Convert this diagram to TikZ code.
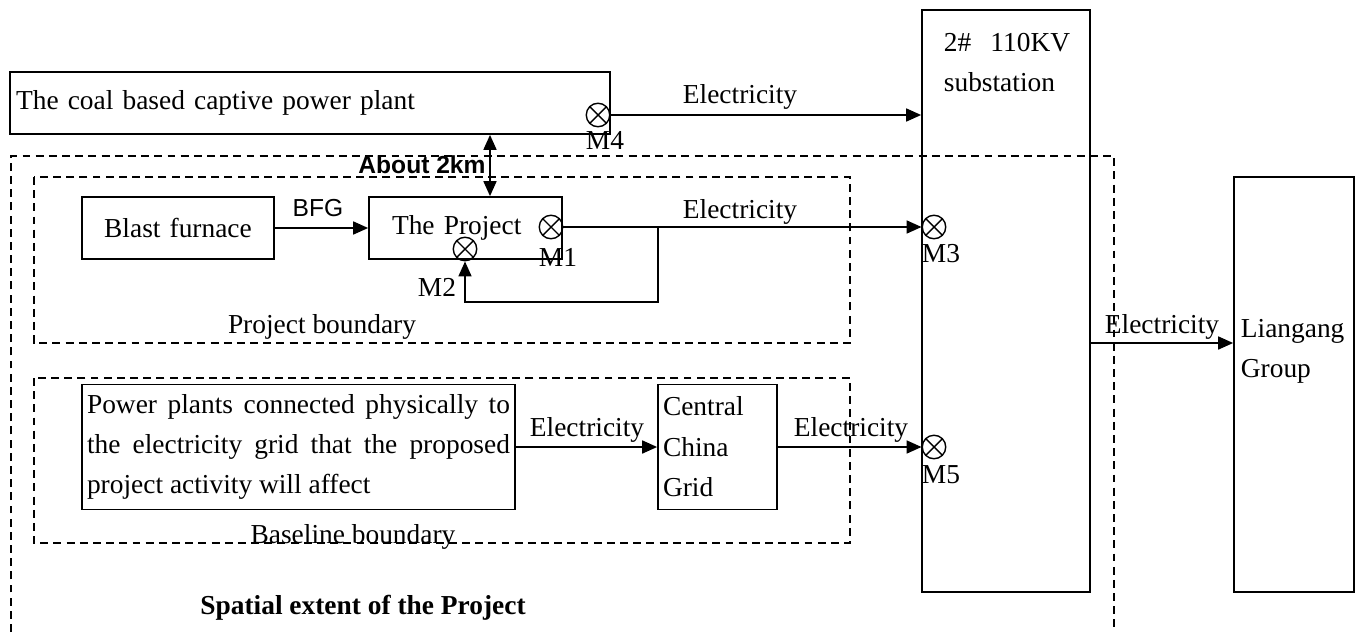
\documentclass[tikz,border=0pt]{standalone}
\usepackage{fontspec}
\setmainfont{Liberation Serif}
\newfontfamily\arialfont{Liberation Sans}
\usetikzlibrary{arrows.meta,calc}
\newcommand{\boxfont}{\fontsize{15.6}{23}\selectfont}
\newcommand{\sansfont}{\arialfont\fontsize{14}{16}\selectfont}

\begin{document}
\begin{tikzpicture}[x=0.02cm,y=-0.02cm,line width=1pt,>={Triangle[length=0.3cm,width=0.26cm]},
  box/.style={draw,rectangle,inner ysep=0pt,font=\boxfont},
  bound/.style={line width=0.9pt,dash pattern=on 4.5pt off 3pt},
  meter/.style={draw,circle,inner sep=0pt,minimum size=0.47cm,line width=0.8pt,
    path picture={\draw (path picture bounding box.north west) -- (path picture bounding box.south east)
      (path picture bounding box.north east) -- (path picture bounding box.south west);}},
  lab/.style={inner sep=0pt,font=\boxfont},
  slab/.style={inner sep=0pt,font=\sansfont}]
  \useasboundingbox (0,0) rectangle (1361,632);
  % boundaries
  \draw[bound] (11,632) -- (11,156) -- (1114,156) -- (1114,632);
  \draw[bound] (34,177) rectangle (850,343);
  \draw[bound] (34,378) rectangle (850,543);
  \node[lab] (pbound) at (322,327) {Project boundary};
  \node[lab] (bbound) at (353,537) {Baseline boundary};
  \node[lab,font=\boxfont\bfseries] (extent) at (363,608) {Spatial extent of the Project};
  % captive plant and substation
  \node[box,minimum width=12cm,minimum height=1.24cm,text width=11.76cm,inner xsep=0.12cm,align=left] (coal) at (310,103) {The coal based captive power plant};
  \node[box,minimum width=3.36cm,minimum height=11.64cm] (sub) at (1006,301) {};
  \node[lab,anchor=north west,align=left] (subtxt) at (943,32) {2\#\hspace{0.7em}110KV\\substation};
  \node[meter] (m4) at (598,115) {}; \node[lab] (m4l) at (605,140) {M4};
  \draw[->] (m4.east) -- (m4.east -| sub.west);
  \node[lab] (e4) at (740,97) {Electricity};
  % project
  \node[box,minimum width=3.84cm,minimum height=1.24cm,text width=3.64cm,inner xsep=0.1cm,align=center] (bf) at (178,228) {Blast furnace};
  \node[box,minimum width=3.86cm,minimum height=1.24cm,text width=2.94cm,inner xsep=0.46cm,align=left] (proj) at (465.5,228) {The Project};
  \draw[->] (bf) -- (proj); \node[slab] (bfg) at (318,208) {BFG};
  \coordinate (gap) at (490,165);
  \draw[<->] (gap |- coal.south) -- (gap |- proj.north);
  \node[slab,font=\sansfont\bfseries] (dist) at (422,165) {About 2km};
  \node[meter] (m1) at (551,227) {}; \node[lab] (m1l) at (558,257) {M1};
  \node[meter] (m2) at (465,249) {}; \node[lab] (m2l) at (437,287) {M2};
  \node[meter] (m3) at (934,227) {}; \node[lab] (m3l) at (941,254) {M3};
  \draw[->] (m1.east) -- (m3.west);
  \node[lab] (e1) at (740,212) {Electricity};
  \coordinate (tap) at (658,227); \coordinate (loop) at (658,302);
  \draw[->] (tap) -- (loop) -| (m2.south);
  % baseline
  \node[box,minimum width=8.66cm,minimum height=2.5cm,text width=8.46cm,inner xsep=0.1cm,align=justify] (pp) at (298.5,447) {Power plants connected physically to\linebreak the electricity grid that the proposed\linebreak project activity will affect};
  \node[box,minimum width=2.38cm,minimum height=2.5cm,text width=2.18cm,inner xsep=0.1cm,align=left] (grid) at (717.5,447) {Central\\China\\Grid};
  \node[meter] (m5) at (934,447) {}; \node[lab] (m5l) at (941,475) {M5};
  \draw[->] (pp) -- (grid); \node[lab] (e5) at (587,430) {Electricity};
  \draw[->] (grid.east) -- (m5.west); \node[lab] (e6) at (851,430) {Electricity};
  % Liangang
  \node[box,minimum width=2.4cm,minimum height=8.3cm] (lg) at (1294,384.5) {};
  \node[lab,anchor=north west,align=left] (lgtxt) at (1240,318) {Liangang\\Group};
  \coordinate (feed) at (1100,343);
  \draw[->] (feed -| sub.east) -- (feed -| lg.west);
  \node[lab] (e7) at (1162,327) {Electricity};
\end{tikzpicture}
\end{document}
